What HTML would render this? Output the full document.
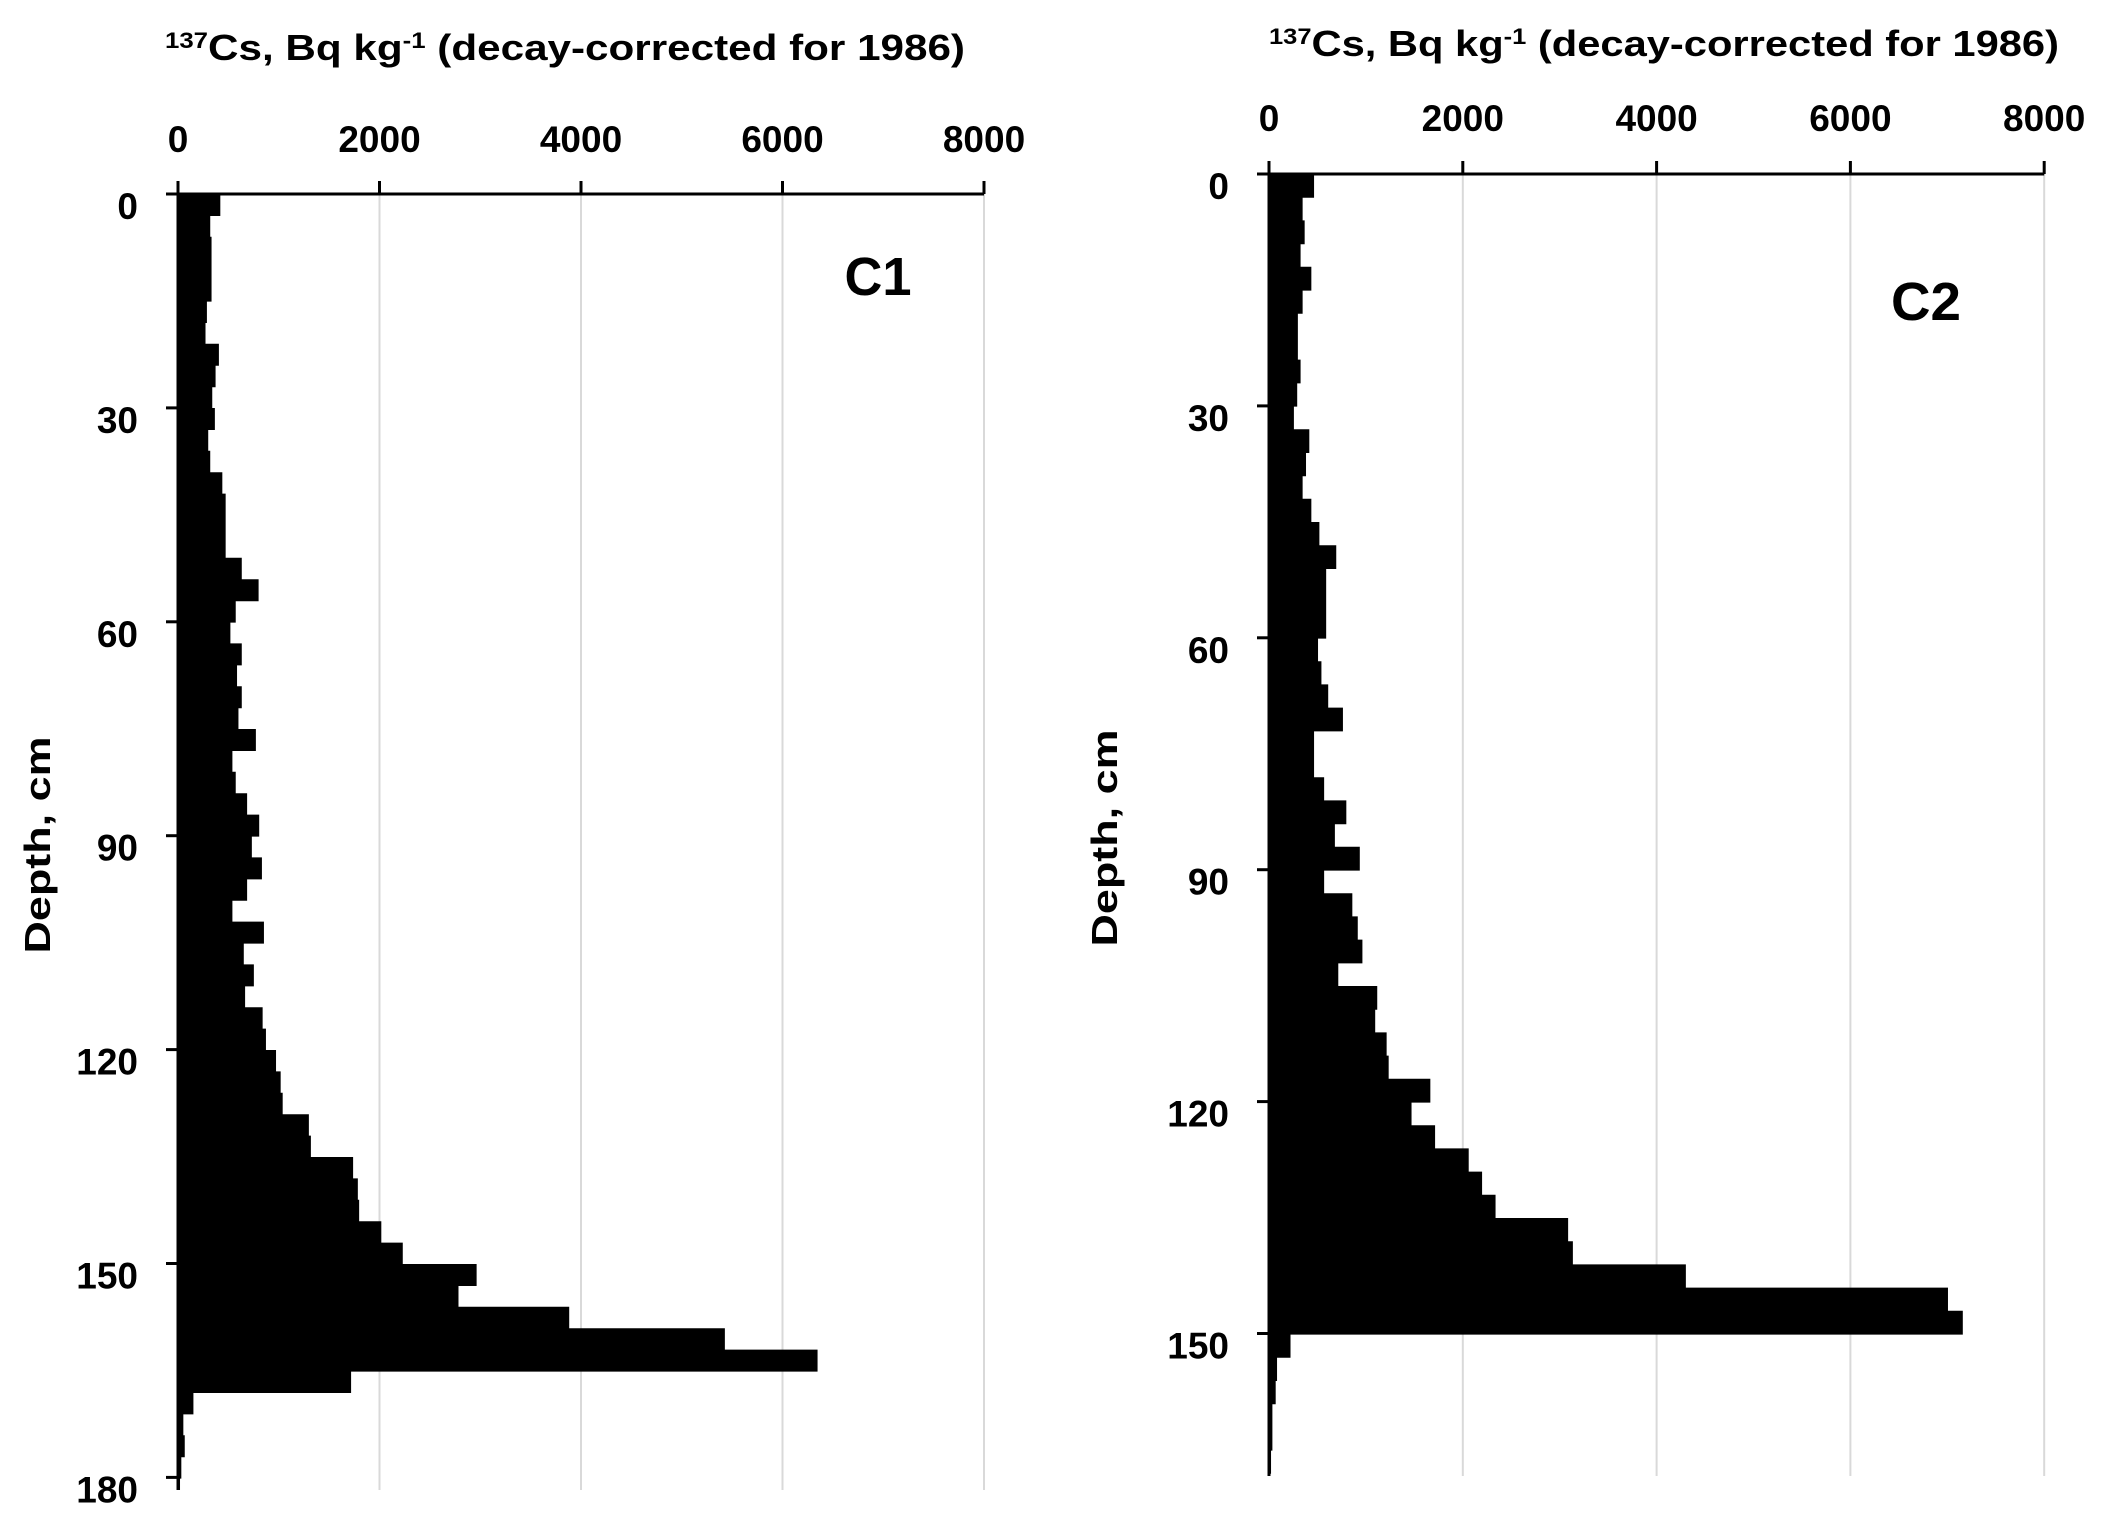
<!DOCTYPE html>
<html><head><meta charset="utf-8"><style>
html,body{margin:0;padding:0;background:#fff;}
svg{display:block;font-family:"Liberation Sans",sans-serif;font-weight:bold;}
</style></head><body>
<svg id="s" width="2102" height="1513" viewBox="0 0 2102 1513" xmlns="http://www.w3.org/2000/svg">
<rect width="2102" height="1513" fill="#fff"/>
<g id="g"></g>
<text x="165" y="60" font-size="36" textLength="800" lengthAdjust="spacingAndGlyphs">
<tspan font-size="22" dy="-12">137</tspan><tspan dy="12">Cs, Bq  kg</tspan><tspan font-size="22" dy="-12">-1</tspan><tspan dy="12"> (decay-corrected for  1986)</tspan></text>
<text x="1269" y="56" font-size="36" textLength="790" lengthAdjust="spacingAndGlyphs">
<tspan font-size="22" dy="-12">137</tspan><tspan dy="12">Cs, Bq kg</tspan><tspan font-size="22" dy="-12">-1</tspan><tspan dy="12">  (decay-corrected for 1986)</tspan></text>
<text x="878" y="295" font-size="54" text-anchor="middle" textLength="67" lengthAdjust="spacingAndGlyphs">C1</text>
<text x="1926" y="320" font-size="54" text-anchor="middle" textLength="70" lengthAdjust="spacingAndGlyphs">C2</text>
<text transform="translate(50,845) rotate(-90)" font-size="36" text-anchor="middle" textLength="217" lengthAdjust="spacingAndGlyphs">Depth, cm</text>
<text transform="translate(1117,838) rotate(-90)" font-size="36" text-anchor="middle" textLength="217" lengthAdjust="spacingAndGlyphs">Depth, cm</text>
</svg>
<script>
var NS="http://www.w3.org/2000/svg",g=document.getElementById('g');
function el(t,a,txt){var e=document.createElementNS(NS,t);for(var k in a)e.setAttribute(k,a[k]);if(txt!=null)e.textContent=txt;g.appendChild(e);return e;}
function panel(o){
  var sx=o.pxPer1000/1000;
  for(var v=2000;v<=8000;v+=2000){var x=o.x0+v*sx;el('line',{x1:x,y1:o.y0,x2:x,y2:o.yEnd,stroke:'#d9d9d9','stroke-width':2});}
  var d='';
  for(var i=0;i<o.vals.length;i++){var y=o.y0+i*o.bh;var h=o.bh+0.6;if(y+h>o.yEnd)h=o.yEnd-y;d+='M'+o.x0+' '+y+'h'+(o.vals[i]*sx)+'v'+h+'h'+(-o.vals[i]*sx)+'z';}
  el('path',{d:d,fill:'#000'});
  el('line',{x1:o.x0-10,y1:o.y0,x2:o.x0+8000*sx,y2:o.y0,stroke:'#000','stroke-width':3});
  el('line',{x1:o.x0,y1:o.y0-13,x2:o.x0,y2:o.yEnd,stroke:'#000','stroke-width':3});
  for(var v=0;v<=8000;v+=2000){var x=o.x0+v*sx;el('line',{x1:x,y1:o.y0-13,x2:x,y2:o.y0,stroke:'#000','stroke-width':3});
    el('text',{x:x,y:o.labY,'font-size':37,'text-anchor':'middle'},String(v));}
  for(var dd=0;dd<=o.dmax;dd+=30){var y=o.y0+dd*o.pcm;el('line',{x1:o.x0-12,y1:y,x2:o.x0,y2:y,stroke:'#000','stroke-width':3});
    el('text',{x:o.x0-40,y:y+25,'font-size':37,'text-anchor':'end'},String(dd));}
}
panel({x0:178,pxPer1000:100.75,y0:194,pcm:7.13,bh:21.4,yEnd:1490,labY:152,dmax:180,
vals:[420,320,333,333,333,287,273,406,373,340,366,300,320,440,473,473,473,633,800,573,520,633,586,633,600,773,540,573,686,806,733,833,686,540,853,653,753,666,840,873,973,1019,1039,1299,1319,1738,1785,1798,2018,2231,2964,2784,3883,5428,6348,1718,153,53,67,33,20]});
panel({x0:1269,pxPer1000:96.9,y0:174,pcm:7.73,bh:23.2,yEnd:1476,labY:131,dmax:150,
vals:[465,347,368,326,437,347,298,298,326,291,257,416,382,347,437,520,694,590,590,590,506,541,611,763,465,465,569,798,680,937,569,860,916,964,715,1117,1096,1214,1235,1665,1471,1714,2061,2199,2338,3087,3136,4302,7007,7160,222,83,69,35,35,21]});
</script>
</body></html>
